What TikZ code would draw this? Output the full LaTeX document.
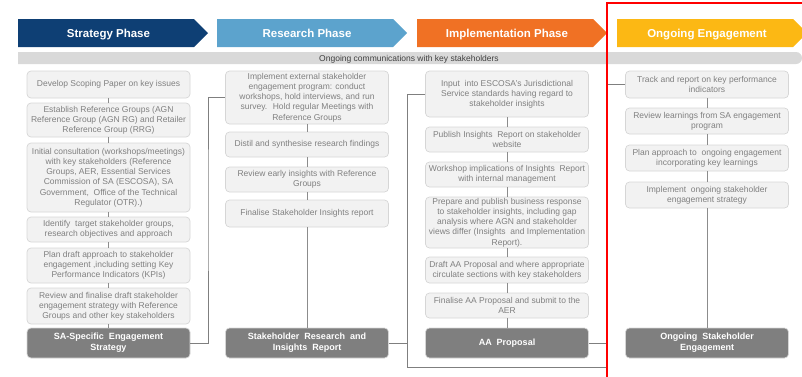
\documentclass[tikz,border=0pt]{standalone}
\usepackage{fontspec}
\setmainfont{Liberation Sans}
\begin{document}
\definecolor{stratblue}{HTML}{0E3F74}
\definecolor{resblue}{HTML}{5CA3CD}
\definecolor{implorange}{HTML}{F07124}
\definecolor{ongoyellow}{HTML}{FCB814}
\definecolor{bandgray}{HTML}{D9D9D9}
\definecolor{boxfill}{HTML}{F2F2F2}
\definecolor{boxline}{HTML}{D6D6D6}
\definecolor{boxtext}{HTML}{808080}
\definecolor{darkbox}{HTML}{7F7F7F}
\definecolor{linkgray}{HTML}{8C8C8C}
\begin{tikzpicture}[x=1pt,y=-1pt,
  phase/.style={text=white,font=\fontsize{11.5}{13}\selectfont\bfseries,inner sep=0pt,anchor=base},
  stepbox/.style={draw=boxline,fill=boxfill,line width=0.7pt,rounded corners=4pt,
    minimum width=163pt,align=center,inner sep=1pt,text=boxtext,
    font=\fontsize{8.5}{10.2}\selectfont},
  resultbox/.style={draw=boxline,fill=darkbox,line width=0.7pt,rounded corners=4pt,
    minimum width=163pt,minimum height=30pt,align=center,inner sep=1pt,text=white,
    font=\fontsize{9}{11}\selectfont\bfseries},
  link/.style={draw=linkgray,line width=0.9pt},
  bracket/.style={draw=darkbox,line width=0.9pt}]
\useasboundingbox (0,0) rectangle (802,376);
\clip (0,0) rectangle (802,376);

% phase chevrons
\fill[stratblue] (18,19) -- (194,19) -- (208,33) -- (194,47) -- (18,47) -- cycle;
\fill[resblue] (217,19) -- (393,19) -- (407,33) -- (393,47) -- (217,47) -- cycle;
\fill[implorange] (417,19) -- (593,19) -- (607,33) -- (593,47) -- (417,47) -- cycle;
\fill[ongoyellow] (617,19) -- (793,19) -- (807,33) -- (793,47) -- (617,47) -- cycle;
\node[phase] (h1) at (108.5,37.5) {Strategy Phase};
\node[phase] (h2) at (307,37.5) {Research Phase};
\node[phase] (h3) at (507,37.5) {Implementation Phase};
\node[phase] (h4) at (707,37.5) {Ongoing Engagement};

% communications band
\fill[bandgray] (18,52) [rounded corners=6pt]-- (802,52) -- (802,64) [sharp corners]-- (18,64) -- cycle;
\node[text=black!75,font=\fontsize{8.5}{10}\selectfont,inner sep=0pt,anchor=base] (band) at (409,61.5)
  {Ongoing communications with key stakeholders};

% strategy column
\node[stepbox,minimum height=27pt] (S1) at (108.5,84.5) {Develop Scoping Paper on key issues};
\node[stepbox,minimum height=34pt] (S2) at (108.5,120) {Establish Reference Groups (AGN\\Reference Group (AGN RG) and Retailer\\Reference Group (RRG)};
\node[stepbox,minimum height=69pt] (S3) at (108.5,177.5) {Initial consultation (workshops/meetings)\\with key stakeholders (Reference\\Groups, AER, Essential Services\\Commission of SA (ESCOSA), SA\\Government, \ Office of the Technical\\Regulator (OTR).)};
\node[stepbox,minimum height=25pt] (S4) at (108.5,229.5) {Identify \ target stakeholder groups,\\research objectives and approach};
\node[stepbox,minimum height=35pt] (S5) at (108.5,265.5) {Plan draft approach to stakeholder\\engagement ,including setting Key\\Performance Indicators (KPIs)};
\node[stepbox,minimum height=36pt] (S6) at (108.5,306) {Review and finalise draft stakeholder\\engagement strategy with Reference\\Groups and other key stakeholders};
\node[resultbox] (SD) at (108.5,343) {SA-Specific \ Engagement\\Strategy};

% research column
\node[stepbox,minimum height=53pt] (R1) at (307,97.5) {Implement external stakeholder\\engagement program: conduct\\workshops, hold interviews, and run\\survey. \ Hold regular Meetings with\\Reference Groups};
\node[stepbox,minimum height=25pt] (R2) at (307,144.5) {Distil and synthesise research findings};
\node[stepbox,minimum height=25pt] (R3) at (307,179.5) {Review early insights with Reference\\Groups};
\node[stepbox,minimum height=27pt] (R4) at (307,213.5) {Finalise Stakeholder Insights report};
\node[resultbox] (RD) at (307,343) {Stakeholder \ Research \ and\\Insights \ Report};

% implementation column
\node[stepbox,minimum height=46pt] (I1) at (507,94) {Input \ into ESCOSA's Jurisdictional\\Service standards having regard to\\stakeholder insights};
\node[stepbox,minimum height=25pt] (I2) at (507,139.5) {Publish Insights \ Report on stakeholder\\website};
\node[stepbox,minimum height=25pt] (I3) at (507,174.5) {Workshop implications of Insights \ Report\\with internal management};
\node[stepbox,minimum height=51pt] (I4) at (507,222.5) {Prepare and publish business response\\to stakeholder insights, including gap\\analysis where AGN and stakeholder\\views differ (Insights \ and Implementation\\Report).};
\node[stepbox,minimum height=26pt] (I5) at (507,270) {Draft AA Proposal and where appropriate\\circulate sections with key stakeholders};
\node[stepbox,minimum height=25pt] (I6) at (507,305.5) {Finalise AA Proposal and submit to the\\AER};
\node[resultbox] (ID) at (507,343) {AA \ Proposal};

% ongoing column
\node[stepbox,minimum height=27pt] (O1) at (707,84.5) {Track and report on key performance\\indicators};
\node[stepbox,minimum height=26pt] (O2) at (707,121) {Review learnings from SA engagement\\program};
\node[stepbox,minimum height=26pt] (O3) at (707,158) {Plan approach to \ ongoing engagement\\incorporating key learnings};
\node[stepbox,minimum height=26pt] (O4) at (707,195) {Implement \ ongoing stakeholder\\engagement strategy};
\node[resultbox] (OD) at (707,343) {Ongoing \ Stakeholder\\Engagement};

% links inside each column
\draw[link] (S1) -- (S2) (S2) -- (S3) (S3) -- (S4) (S4) -- (S5) (S5) -- (S6) (S6) -- (SD);
\draw[link] (R1) -- (R2) (R2) -- (R3) (R3) -- (R4) (R4) -- (RD);
\draw[link] (I1) -- (I2) (I2) -- (I3) (I3) -- (I4) (I4) -- (I5) (I5) -- (I6) (I6) -- (ID);
\draw[link] (O1) -- (O2) (O2) -- (O3) (O3) -- (O4) (O4) -- (OD);

% hand-overs between phases
\coordinate (j1) at (208,200);
\coordinate (b1) at (407,367);
\coordinate (b2) at (607,367);
\draw[bracket] (SD.east) -| (j1) |- (R1.west);
\draw[bracket] (I1.west) -| (b1) -- (b2) |- (O1.west);
\draw[bracket] (RD.east) -- (RD.east -| b1);
\draw[bracket] (ID.east) -- (ID.east -| b2);

% highlight frame
\draw[red,line width=1.6pt] (607,3) rectangle (812,390);
\end{tikzpicture}
\end{document}
